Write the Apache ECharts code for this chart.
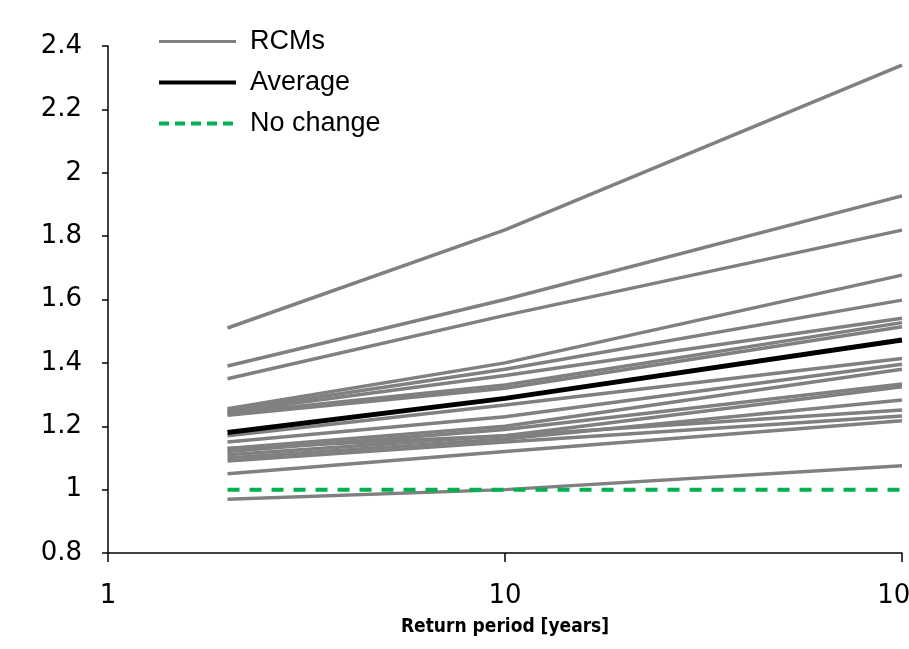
<!DOCTYPE html>
<html><head><meta charset="utf-8">
<script src="https://cdn.jsdelivr.net/npm/echarts@6/dist/echarts.min.js"></script>
<style>html,body{margin:0;padding:0;background:#fff}#c{width:909px;height:649px}</style>
</head><body><div id="c"></div>
<script>
// Return periods (years) at which values are read
const returnPeriods = [2, 10, 100];
// RCM ratio curves: values at 2, 10, 100 years
const rcmValues = [
  [1.51, 1.82, 2.34],
  [1.39, 1.60, 1.927],
  [1.35, 1.55, 1.819],
  [1.255, 1.40, 1.677],
  [1.25, 1.38, 1.598],
  [1.245, 1.36, 1.541],
  [1.24, 1.33, 1.527],
  [1.235, 1.32, 1.514],
  [1.17, 1.267, 1.414],
  [1.15, 1.23, 1.396],
  [1.13, 1.20, 1.38],
  [1.12, 1.19, 1.333],
  [1.11, 1.17, 1.325],
  [1.10, 1.16, 1.283],
  [1.13, 1.17, 1.251],
  [1.09, 1.15, 1.232],
  [1.05, 1.12, 1.217],
  [0.97, 1.00, 1.075]
];
const averageValues = [1.18, 1.288, 1.472];
const noChangeValues = [1, 1, 1];
const yTicks = [0.8, 1, 1.2, 1.4, 1.6, 1.8, 2, 2.2, 2.4];
const xTicks = [1, 10, 100];

const pair = vals => returnPeriods.map((p, i) => [p, vals[i]]);
const series = rcmValues.map(v => ({
  name: 'RCMs', type: 'line', data: pair(v), symbol: 'none', silent: true,
  lineStyle: {color: '#808080', width: 3.5}, itemStyle: {color: '#808080'}, z: 2
}));
series.push({
  name: 'Average', type: 'line', data: pair(averageValues), symbol: 'none',
  lineStyle: {color: '#000', width: 5}, itemStyle: {color: '#000'}, z: 4
});
series.push({
  name: 'No change', type: 'line', data: pair(noChangeValues), symbol: 'none',
  lineStyle: {color: '#00b050', width: 4, type: [12, 10], cap: 'butt'}, itemStyle: {color: '#00b050'}, z: 3
});

const chart = echarts.init(document.getElementById('c'), null, {renderer: 'canvas'});
chart.setOption({
  animation: false,
  grid: {left: 108, right: 7, top: 46, bottom: 96, containLabel: false, outerBoundsMode: 'none'},
  legend: {
    orient: 'vertical', left: 157, top: 28, padding: 0, itemWidth: 77, itemHeight: 14, itemGap: 14,
    textStyle: {fontFamily: 'Liberation Sans, Arial', fontSize: 27, color: '#000', padding: [0, 0, 0, 9]},
    data: [
      {name: 'RCMs', itemStyle: {opacity: 0}, lineStyle: {width: 3, color: '#808080'}},
      {name: 'Average', itemStyle: {opacity: 0}, lineStyle: {width: 4, color: '#000'}},
      {name: 'No change', itemStyle: {opacity: 0}, lineStyle: {width: 4, color: '#00b050', type: [10, 6]}}
    ]
  },
  xAxis: {
    type: 'log', logBase: 10, min: 1, max: 100,
    name: 'Return period [years]', nameLocation: 'middle', nameGap: 65,
    nameTextStyle: {fontFamily: 'DejaVu Sans Condensed, Liberation Sans', fontWeight: 'bold', fontSize: 19, color: '#000'},
    axisLine: {lineStyle: {color: '#000', width: 1.5}},
    axisTick: {show: true, length: 9, lineStyle: {color: '#000', width: 1.5}},
    minorTick: {show: false},
    axisLabel: {margin: 30, fontFamily: 'DejaVu Sans', fontSize: 26, color: '#000'},
    splitLine: {show: false}
  },
  yAxis: {
    type: 'value', min: 0.8, max: 2.4, interval: 0.2,
    axisLine: {show: true, lineStyle: {color: '#000', width: 1.5}},
    axisTick: {show: true, length: 6, lineStyle: {color: '#000', width: 1.5}},
    axisLabel: {margin: 26, fontFamily: 'DejaVu Sans', fontSize: 26, color: '#000',
      formatter: v => String(Math.round(v * 10) / 10)},
    splitLine: {show: false}
  },
  series: series
});
</script></body></html>
